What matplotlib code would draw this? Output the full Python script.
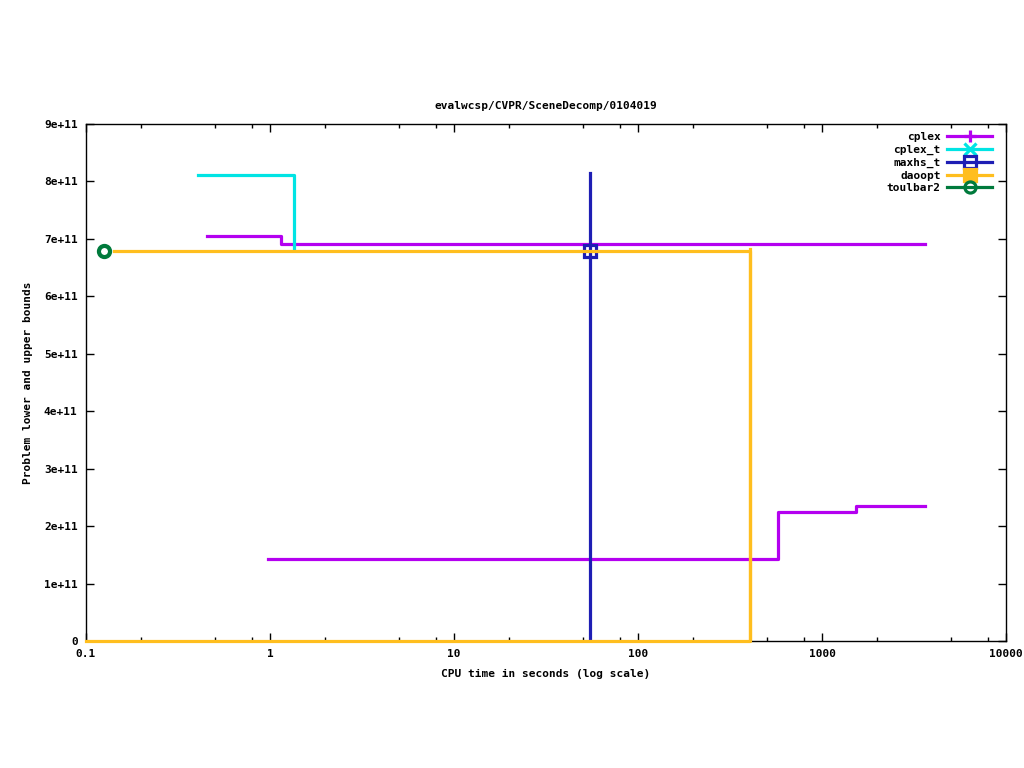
import matplotlib
matplotlib.use("Agg")
import matplotlib.pyplot as plt
from matplotlib.ticker import FixedLocator, FixedFormatter, NullFormatter
from matplotlib.lines import Line2D

plt.rcParams['font.family'] = ['DejaVu Sans Mono']
plt.rcParams['font.weight'] = 'bold'

# data (time in s, bound values)
cplex_ub_t = [0.455, 1.15, 3630]
cplex_ub = [7.05e11, 6.91e11, 6.91e11]
cplex_lb_t = [0.98, 577, 1531, 3630]
cplex_lb = [1.43e11, 2.25e11, 2.35e11, 2.35e11]
cplex_t_t = [0.406, 1.35]
cplex_t_v = [8.12e11, 6.81e11]
maxhs_t_t = [54.8, 54.8]
maxhs_t_v = [8.15e11, 0]
maxhs_t_pt = (54.8, 6.79e11)
daoopt_ub_t = [0.142, 406, 406]
daoopt_ub = [6.79e11, 6.79e11, 0]
daoopt_lb_t = [0.1, 406]
daoopt_lb = [0, 6.83e11]
toulbar2_pt = (0.125, 6.79e11)

labels = ['cplex', 'cplex_t', 'maxhs_t', 'daoopt', 'toulbar2']
colors = ['#b400f0', '#00e4e4', '#1e1eb4', '#ffbe1e', '#007a3c']
markers = ['+', 'x', 's', 's', 'o']

fig = plt.figure(figsize=(10.24, 7.68), dpi=100)
ax = fig.add_axes([86/1024, 1 - 641/768, 920/1024, 517/768])
lw = 2.3

ax.plot(cplex_ub_t, cplex_ub, drawstyle='steps-post', color=colors[0], lw=lw)
ax.plot(cplex_lb_t, cplex_lb, drawstyle='steps-post', color=colors[0], lw=lw)
ax.plot(cplex_t_t, cplex_t_v, drawstyle='steps-post', color=colors[1], lw=lw)
ax.plot(maxhs_t_t, maxhs_t_v, color=colors[2], lw=lw)
ax.plot(*maxhs_t_pt, marker='s', ms=8, mfc='none', mec=colors[2], mew=2.3)
ax.plot(daoopt_lb_t, daoopt_lb, drawstyle='steps-post', color=colors[3], lw=lw,
        clip_on=False, zorder=5)
ax.plot(daoopt_ub_t, daoopt_ub, color=colors[3], lw=lw)
ax.plot(*toulbar2_pt, marker='o', ms=8, mfc='none', mec=colors[4], mew=3)

ax.set_xscale('log')
ax.set_xlim(0.1, 10000)
ax.set_ylim(0, 9e11)

major = [0.1, 1, 10, 100, 1000, 10000]
ax.xaxis.set_major_locator(FixedLocator(major))
ax.xaxis.set_major_formatter(FixedFormatter(['0.1', '1', '10', '100', '1000', '10000']))
minor = [m * d for d in [0.1, 1, 10, 100, 1000] for m in (2, 5, 8)]
ax.xaxis.set_minor_locator(FixedLocator(minor))
ax.xaxis.set_minor_formatter(NullFormatter())

yt = [i * 1e11 for i in range(10)]
ax.set_yticks(yt)
ax.set_yticklabels(['0'] + ['%de+11' % i for i in range(1, 10)])

ax.tick_params(which='both', direction='in', top=True, right=True, labelsize=8, width=1)
ax.tick_params(which='major', length=6, pad=6)
ax.tick_params(which='minor', length=3)
for s in ax.spines.values():
    s.set_linewidth(1)

ax.set_title('evalwcsp/CVPR/SceneDecomp/0104019', fontsize=8, fontweight='bold', pad=11)
ax.set_xlabel('CPU time in seconds (log scale)', fontsize=8, fontweight='bold', labelpad=7)
ax.set_ylabel('Problem lower and upper bounds', fontsize=8, fontweight='bold', labelpad=8)

handles = []
for lab, c, m in zip(labels, colors, markers):
    mfc = c if lab == 'daoopt' else 'none'
    handles.append(Line2D([], [], color=c, lw=lw, marker=m, ms=8, mec=c, mfc=mfc, mew=2.3))
ax.legend(handles, labels, loc='upper right', frameon=False, markerfirst=False,
          fontsize=8, handlelength=4.0, labelspacing=0.25, borderaxespad=0.3,
          handletextpad=0.6, bbox_to_anchor=(0.993, 1.0))

fig.savefig('out.png', dpi=100)
